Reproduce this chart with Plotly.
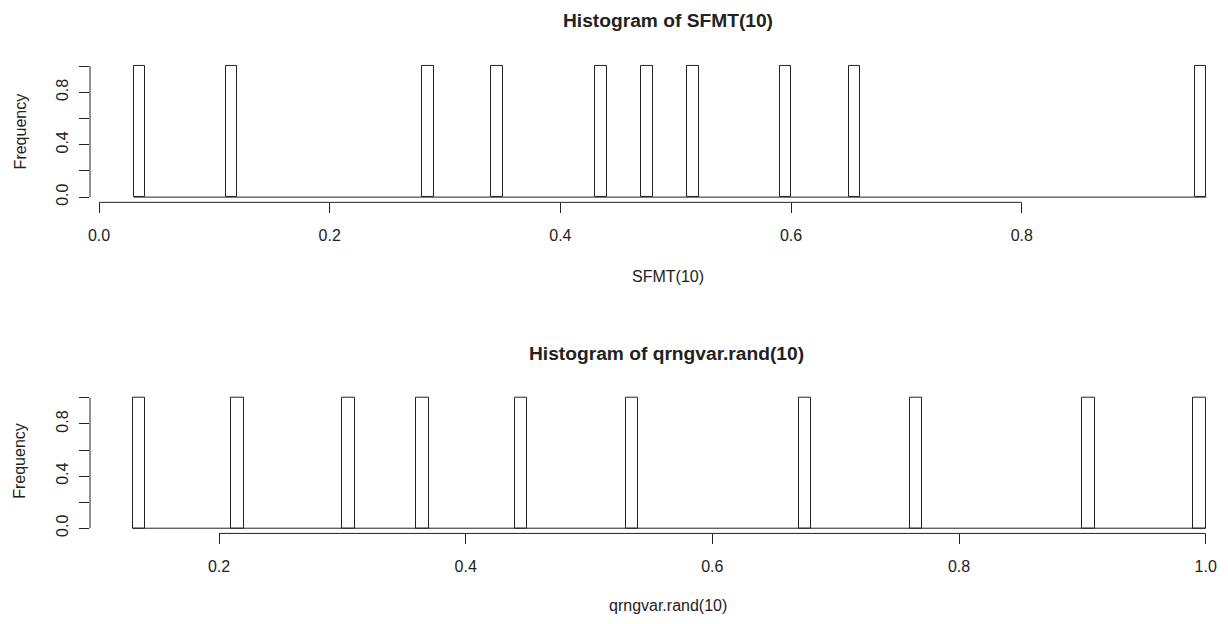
import numpy as np
import plotly.graph_objects as go

# ---- data (histogram bins, width 0.01, lower edges of bins with count 1) ----
bin_width = 0.01
sfmt_bins = [0.03, 0.11, 0.28, 0.34, 0.43, 0.47, 0.51, 0.59, 0.65, 0.95]
sfmt_counts = [1, 1, 1, 1, 1, 1, 1, 1, 1, 1]
qrng_bins = [0.13, 0.21, 0.30, 0.36, 0.44, 0.53, 0.67, 0.76, 0.90, 0.99]
qrng_counts = [1, 1, 1, 1, 1, 1, 1, 1, 1, 1]

top_xticks = [0.0, 0.2, 0.4, 0.6, 0.8]
top_xtext = ["0.0", "0.2", "0.4", "0.6", "0.8"]
bot_xticks = [0.2, 0.4, 0.6, 0.8, 1.0]
bot_xtext = ["0.2", "0.4", "0.6", "0.8", "1.0"]
yticks = [0.0, 0.2, 0.4, 0.6, 0.8, 1.0]
ytext = ["0.0", "", "0.4", "", "0.8", ""]

FONT = "Liberation Sans, Arial, sans-serif"
OFF = 8  # default page body margin
W, H = 1228 - OFF, 624 - OFF
ML = 90 - OFF

fig = go.Figure()


def add_hist(bins, counts, xa, ya):
    centers = np.round(np.array(bins) + bin_width / 2, 4)
    fig.add_trace(go.Bar(
        x=centers, y=counts, width=bin_width, xaxis=xa, yaxis=ya,
        marker=dict(color="white", line=dict(color="#222222", width=1)),
        showlegend=False, hoverinfo="x+y"))
    # empty bins drawn as a flat line at 0 (R style)
    fig.add_trace(go.Scatter(
        x=[min(bins), max(bins) + bin_width], y=[0, 0], mode="lines",
        xaxis=xa, yaxis=ya, line=dict(color="#222222", width=1),
        showlegend=False, hoverinfo="skip"))


add_hist(sfmt_bins, sfmt_counts, "x", "y")
add_hist(qrng_bins, qrng_counts, "x2", "y2")


def py(p):
    return 1 - (p - OFF) / H


def px_x(p):
    return (p - OFF - ML) / (W - ML)


tickfont = dict(family=FONT, size=16, color="#222222")
common_x = dict(showgrid=False, zeroline=False, showline=False, ticks="outside",
                ticklen=10, tickwidth=1, tickcolor="#222222", tickfont=tickfont,
                ticklabelstandoff=8, domain=[0, 1], fixedrange=True)
common_y = dict(showgrid=False, zeroline=False, showline=False, ticks="outside",
                ticklen=10, tickwidth=1, tickcolor="#222222", tickfont=tickfont,
                tickvals=yticks, ticktext=ytext, tickangle=-90,
                range=[-0.04, 1.04], ticklabelstandoff=5, fixedrange=True)

fig.update_layout(
    width=W, height=H,
    margin=dict(l=ML, r=0, t=0, b=0),
    paper_bgcolor="white", plot_bgcolor="white",
    font=dict(family=FONT, color="#222222"),
    bargap=0,
    xaxis=dict(common_x, range=[-0.0078, 0.9788], tickvals=top_xticks,
               ticktext=top_xtext, anchor="y"),
    yaxis=dict(common_y, domain=[py(203.3), py(61.2)], anchor="x"),
    xaxis2=dict(common_x, range=[0.0954, 1.0181], tickvals=bot_xticks,
                ticktext=bot_xtext, anchor="y2"),
    yaxis2=dict(common_y, domain=[py(536.0), py(394.6)], anchor="x2"),
)

# R-style axis lines spanning only the tick range
for xa, ya, xt in (("x", "y", top_xticks), ("x2", "y2", bot_xticks)):
    fig.add_shape(type="line", xref=xa, yref=f"{ya} domain",
                  x0=xt[0], x1=xt[-1], y0=0, y1=0,
                  line=dict(color="#222222", width=1))
    fig.add_shape(type="line", xref=f"{xa} domain", yref=ya,
                  x0=0, x1=0, y0=yticks[0], y1=yticks[-1],
                  line=dict(color="#222222", width=1))

ann = [
    ("<b>Histogram of SFMT(10)</b>", 668, 21, 19.2, 0),
    ("<b>Histogram of qrngvar.rand(10)</b>", 667, 355, 19.2, 0),
    ("SFMT(10)", 668, 278, 16, 0),
    ("qrngvar.rand(10)", 668, 608, 16, 0),
    ("Frequency", 20, 132, 16, -90),
    ("Frequency", 20, 463, 16, -90),
]
for text, x, y, size, ang in ann:
    fig.add_annotation(text=text, xref="paper", yref="paper",
                       x=px_x(x), y=py(y), xanchor="center", yanchor="middle",
                       showarrow=False, textangle=ang,
                       font=dict(family=FONT, size=size, color="#222222"))

fig.write_html("out.html")
